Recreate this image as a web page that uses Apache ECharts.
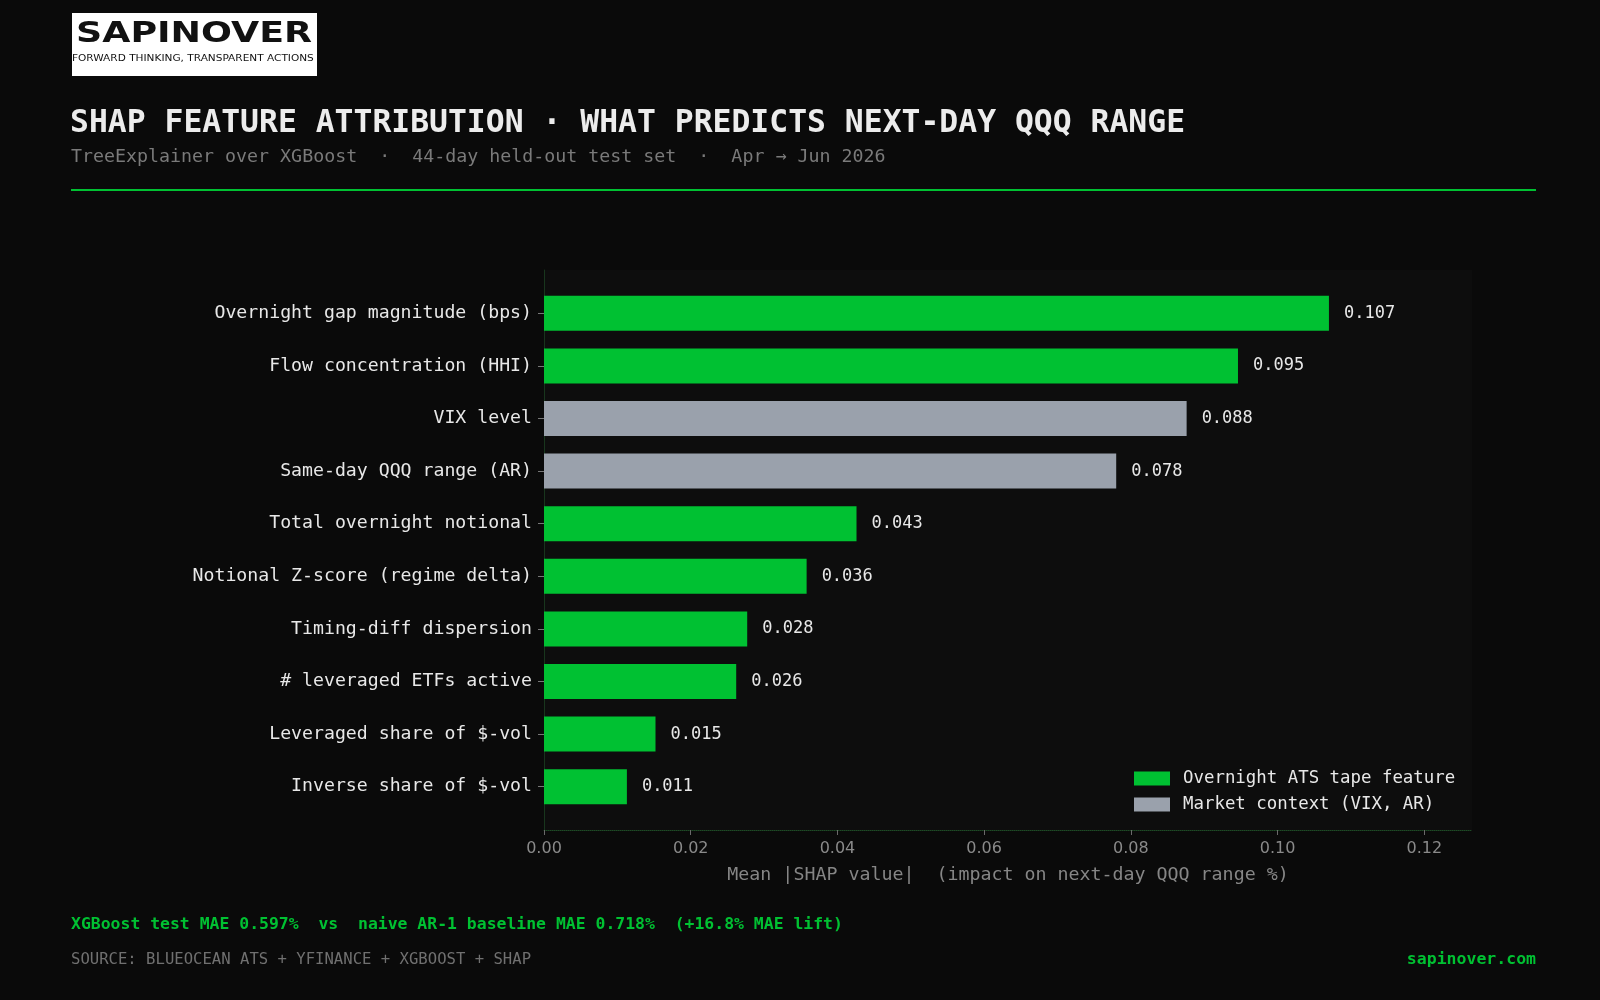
<!DOCTYPE html>
<html lang="en">
<head>
    <meta charset="UTF-8" />
    <title>SHAP feature attribution</title>
    <script src="https://cdnjs.cloudflare.com/ajax/libs/echarts/6.0.0/echarts.min.js"></script>
    <style>
        html, body { margin: 0; padding: 0; background: #0a0a0a; }
        #main { width: 1600px; height: 1000px; }
    </style>
</head>
<body>
<div id="main"></div>
<script>
    // data, top to bottom
    var features = ['Overnight gap magnitude (bps)', 'Flow concentration (HHI)', 'VIX level',
                    'Same-day QQQ range (AR)', 'Total overnight notional', 'Notional Z-score (regime delta)',
                    'Timing-diff dispersion', '# leveraged ETFs active', 'Leveraged share of $-vol',
                    'Inverse share of $-vol'];
    var shapValues = [0.107, 0.0946, 0.0876, 0.0780, 0.0426, 0.0358, 0.0277, 0.0262, 0.0152, 0.0113];
    var groups = ['tape', 'tape', 'market', 'market', 'tape', 'tape', 'tape', 'tape', 'tape', 'tape'];
    var xTicks = [0, 0.02, 0.04, 0.06, 0.08, 0.10, 0.12];

    var GREEN = '#00c132';
    var GREY = '#9aa1ac';
    var MONO = '"DejaVu Sans Mono", monospace';
    var XMAX = 0.1265;

    var tapeData = shapValues.map(function (v, i) { return groups[i] === 'tape' ? v : null; });
    var marketData = shapValues.map(function (v, i) { return groups[i] === 'market' ? v : null; });

    var barLabel = {
        show: true,
        position: 'right',
        distance: 15,
        color: '#e8e8e8',
        fontFamily: MONO,
        fontSize: 17,
        padding: [2, 0, 0, 0],
        formatter: function (p) { return p.value == null ? '' : p.value.toFixed(3); }
    };

    var myChart = echarts.init(document.getElementById('main'));
    var option = {
        backgroundColor: '#0a0a0a',
        animation: false,
        graphic: [
            // logo box
            { type: 'rect', shape: { x: 72, y: 13, width: 245, height: 63 }, style: { fill: '#ffffff' } },
            { type: 'text', x: 76, y: 35, scaleX: 1.3, originX: 0,
              style: { text: 'SAPINOVER', fill: '#111111', font: 'bold 28px "DejaVu Sans"', verticalAlign: 'middle' } },
            { type: 'text', x: 72, y: 59, scaleX: 1.11, originX: 0,
              style: { text: 'FORWARD THINKING, TRANSPARENT ACTIONS', fill: '#111111', font: '9.5px "DejaVu Sans"', verticalAlign: 'middle' } },
            // header
            { type: 'text', x: 70, y: 124,
              style: { text: 'SHAP FEATURE ATTRIBUTION \u00b7 WHAT PREDICTS NEXT-DAY QQQ RANGE', fill: '#ececec',
                       font: 'bold 31.4px ' + MONO, verticalAlign: 'middle' } },
            { type: 'text', x: 71, y: 157,
              style: { text: 'TreeExplainer over XGBoost  \u00b7  44-day held-out test set  \u00b7  Apr \u2192 Jun 2026',
                       fill: '#7a7a7a', font: '18.3px ' + MONO, verticalAlign: 'middle' } },
            { type: 'line', shape: { x1: 71, y1: 190, x2: 1536, y2: 190 }, style: { stroke: GREEN, lineWidth: 2 } },
            // footer
            { type: 'text', x: 71, y: 925,
              style: { text: 'XGBoost test MAE 0.597%  vs  naive AR-1 baseline MAE 0.718%  (+16.8% MAE lift)',
                       fill: GREEN, font: 'bold 16.45px ' + MONO, verticalAlign: 'middle' } },
            { type: 'text', x: 71, y: 960,
              style: { text: 'SOURCE: BLUEOCEAN ATS + YFINANCE + XGBOOST + SHAP', fill: '#707070',
                       font: '15.6px ' + MONO, verticalAlign: 'middle' } },
            { type: 'text', x: 1536, y: 960,
              style: { text: 'sapinover.com', fill: GREEN, font: 'bold 16.5px ' + MONO,
                       align: 'right', verticalAlign: 'middle' } }
        ],
        legend: {
            orient: 'vertical',
            left: 1129,
            top: 765,
            icon: 'rect',
            itemWidth: 36,
            itemHeight: 14,
            itemGap: 9,
            data: ['Overnight ATS tape feature', 'Market context (VIX, AR)'],
            textStyle: { color: '#e8e8e8', fontFamily: MONO, fontSize: 17.4, lineHeight: 14, padding: [0, 0, 0, 8] }
        },
        grid: [
            { left: 544, top: 270, width: 928, height: 560, show: true, backgroundColor: '#0d0d0d', borderWidth: 0 },
            { left: 544, top: 287, width: 928, height: 526 }
        ],
        xAxis: [
            {
                gridIndex: 0,
                type: 'value',
                min: 0,
                max: XMAX,
                interval: 0.02,
                name: 'Mean |SHAP value|  (impact on next-day QQQ range %)',
                nameLocation: 'middle',
                nameGap: 36,
                nameTextStyle: { color: '#868686', fontFamily: MONO, fontSize: 18.3 },
                axisLine: { show: true, lineStyle: { color: '#1e4a26', type: 'dotted', width: 1 } },
                axisTick: { show: true, length: 5, lineStyle: { color: '#6a6a6a' }, customValues: xTicks },
                axisLabel: {
                    color: '#8a8a8a', fontFamily: '"DejaVu Sans"', fontSize: 16, margin: 11,
                    customValues: xTicks,
                    formatter: function (v) { return v.toFixed(2); }
                },
                splitLine: { show: false }
            },
            { gridIndex: 1, type: 'value', min: 0, max: XMAX, show: false }
        ],
        yAxis: [
            {
                gridIndex: 0,
                type: 'value',
                min: 0,
                max: 1,
                axisLine: { show: true, lineStyle: { color: '#18361d', width: 1 } },
                axisTick: { show: false },
                axisLabel: { show: false },
                splitLine: { show: false }
            },
            {
                gridIndex: 1,
                type: 'category',
                inverse: true,
                data: features,
                axisLine: { show: false },
                axisTick: { show: true, alignWithLabel: true, length: 6, lineStyle: { color: '#777777' } },
                axisLabel: { color: '#e8e8e8', fontFamily: MONO, fontSize: 18.2, margin: 12, padding: [3, 0, 0, 0] }
            }
        ],
        series: [
            {
                name: 'Overnight ATS tape feature',
                type: 'bar',
                stack: 'shap',
                xAxisIndex: 1,
                yAxisIndex: 1,
                barWidth: 35,
                itemStyle: { color: GREEN },
                label: barLabel,
                data: tapeData
            },
            {
                name: 'Market context (VIX, AR)',
                type: 'bar',
                stack: 'shap',
                xAxisIndex: 1,
                yAxisIndex: 1,
                barWidth: 35,
                itemStyle: { color: GREY },
                label: barLabel,
                data: marketData
            }
        ]
    };
    myChart.setOption(option);
</script>
</body>
</html>
